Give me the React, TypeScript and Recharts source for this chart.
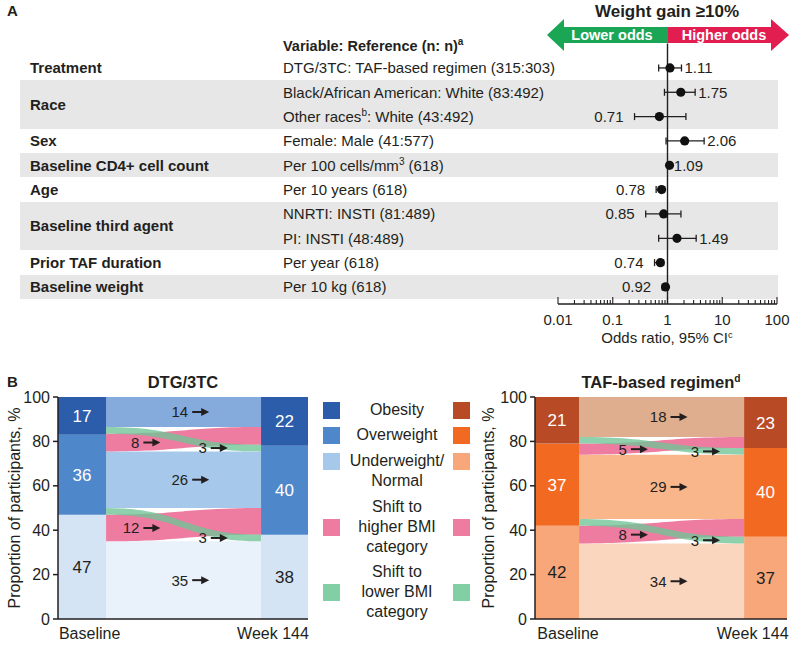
import React from 'react'
import {
  ScatterChart,
  Scatter,
  ErrorBar,
  ComposedChart,
  Area,
  XAxis,
  YAxis,
  ReferenceLine,
  ReferenceArea,
  ReferenceDot,
  Label,
} from 'recharts'

const FONT = '"Liberation Sans", Arial, Helvetica, sans-serif'
const INK = '#231f20'

// ---------- panel A: odds of weight gain >=10% ----------
const groupNames = [
  'Treatment',
  'Race',
  'Sex',
  'Baseline CD4+ cell count',
  'Age',
  'Baseline third agent',
  'Prior TAF duration',
  'Baseline weight',
]
const groupRows = [0, 1.5, 3, 4, 5, 6.5, 8, 9]
const references = [
  'DTG/3TC: TAF-based regimen (315:303)',
  'Black/African American: White (83:492)',
  'Other races^b: White (43:492)',
  'Female: Male (41:577)',
  'Per 100 cells/mm^3 (618)',
  'Per 10 years (618)',
  'NNRTI: INSTI (81:489)',
  'PI: INSTI (48:489)',
  'Per year (618)',
  'Per 10 kg (618)',
]
const oddsRatios = [1.11, 1.75, 0.71, 2.06, 1.09, 0.78, 0.85, 1.49, 0.74, 0.92]
const ciLower = [0.69, 0.88, 0.25, 0.94, 1.03, 0.62, 0.4, 0.69, 0.58, 0.8]
const ciUpper = [1.8, 3.2, 2.17, 4.67, 1.15, 0.88, 1.76, 3.34, 0.85, 1.03]
const labelOnLeft = [false, false, true, false, false, true, true, false, true, true]
const shadedGroups = [[1, 2], [4, 4], [6, 7], [9, 9]]
const oddsMajorTicks = [0.01, 0.1, 1, 10, 100]
const oddsMinorTicks = [0.01, 0.1, 1, 10].flatMap(d => [2, 3, 4, 5, 6, 7, 8, 9].map(m => d * m))

// ---------- panel B: BMI category shifts ----------
const visits = ['Baseline', 'Week 144']
const dtgBaseline = [47, 36, 17]
const dtgWeek144 = [38, 40, 22]
const dtgFlowValues = [35, 12, 3, 26, 8, 3, 14]
const dtgFlowKinds = ['stay0', 'up', 'down', 'stay1', 'up', 'down', 'stay2']
const dtgFlowFrom = [[0, 35], [35, 47], [47, 50], [50, 75.5], [75.5, 83.5], [83.5, 86.5], [86.5, 100]]
const dtgFlowTo = [[0, 35], [38, 50], [35, 38], [50, 75.5], [78.5, 86.5], [75.5, 78.5], [86.5, 100]]

const tafBaseline = [42, 37, 21]
const tafWeek144 = [37, 40, 23]
const tafFlowValues = [34, 8, 3, 29, 5, 3, 18]
const tafFlowKinds = ['stay0', 'up', 'down', 'stay1', 'up', 'down', 'stay2']
const tafFlowFrom = [[0, 34], [34, 42], [42, 45], [45, 74], [74, 79], [79, 82], [82, 100]]
const tafFlowTo = [[0, 34], [37, 45], [34, 37], [45, 74], [77, 82], [74, 77], [82, 100]]

const dtgBarColors = ['#d4e4f5', '#4f87cb', '#2b5dab']
const dtgFlowColors = ['#e9f1fa', '#a6c9eb', '#84abdc']
const tafBarColors = ['#f7a77a', '#f26a22', '#b84b26']
const tafFlowColors = ['#fbd6bf', '#f8b68a', '#deae8e']
const UP = '#ee7ca0'
const DOWN = '#6fc496'

// forest plot geometry
const A_TOP = 43.6
const A_AXIS = 304
const ROW_MIN = -1
const ROW_MAX = 9.7
const ROW_H = (A_AXIS - A_TOP) / (ROW_MAX - ROW_MIN)
const rowY = (r: number) => A_TOP + (r - ROW_MIN) * ROW_H

const svgSup = (s: string) =>
  s.split(/\^(\w)/).map((p, i) =>
    i % 2 === 1 ? (
      <tspan key={i} dy={-6} fontSize={10}>{p}</tspan>
    ) : (
      <tspan key={i} dy={i > 0 ? 6 : undefined}>{p}</tspan>
    )
  )

const htmlSup = (s: string) =>
  s.split(/\^(\w)/).map((p, i) =>
    i % 2 === 1 ? (
      <sup key={i} style={{ fontSize: '0.62em', lineHeight: 0, verticalAlign: '0.55em' }}>{p}</sup>
    ) : (
      <span key={i}>{p}</span>
    )
  )

const RowTick = (p: any) => {
  const v = p.payload.value
  const y = p.y
  const gi = groupRows.indexOf(v)
  return (
    <g>
      {v < 0 && (
        <text x={283} y={y} dy="0.35em" fontSize={14.5} fontWeight="bold" fill={INK}>
          {svgSup('Variable: Reference (n: n)^a')}
        </text>
      )}
      {gi >= 0 && (
        <text x={30} y={y} dy="0.35em" fontSize={15} fontWeight="bold" fill={INK}>
          {groupNames[gi]}
        </text>
      )}
      {Number.isInteger(v) && v >= 0 && (
        <text x={283} y={y} dy="0.35em" fontSize={15} fill={INK}>
          {svgSup(references[v])}
        </text>
      )}
    </g>
  )
}

const OddsTick = (p: any) => {
  const v = p.payload.value
  const major = oddsMajorTicks.includes(v)
  return (
    <g>
      <line x1={p.x} x2={p.x} y1={p.y} y2={p.y - (major ? 7 : 4)} stroke={INK} strokeWidth={1.1} />
      {major && (
        <text x={p.x} y={p.y + 16} dy="0.35em" textAnchor="middle" fontSize={15} fill={INK}>
          {v}
        </text>
      )}
    </g>
  )
}

const ForestPlot = () => {
  const points = oddsRatios.map((or, i) => ({ x: or, y: i, err: [or - ciLower[i], ciUpper[i] - or] }))
  const rightLabels = oddsRatios
    .map((or, i) => ({ x: ciUpper[i], y: i, text: or.toFixed(2), left: labelOnLeft[i] }))
    .filter(d => !d.left)
  const leftLabels = oddsRatios
    .map((or, i) => ({ x: ciLower[i], y: i, text: or.toFixed(2), left: labelOnLeft[i] }))
    .filter(d => d.left)
  const rowTicks = [-0.92, 0, 1, 1.5, 2, 3, 4, 5, 6, 6.5, 7, 8, 9]
  return (
    <ScatterChart width={793} height={350} margin={{ top: A_TOP, right: 16, bottom: 0, left: 498 }}>
      <XAxis
        type="number"
        dataKey="x"
        scale="log"
        domain={[0.01, 100]}
        allowDataOverflow
        ticks={[...oddsMajorTicks, ...oddsMinorTicks].sort((a, b) => a - b)}
        interval={0}
        tickSize={0}
        tickMargin={0}
        tickLine={false}
        height={46}
        axisLine={{ stroke: INK, strokeWidth: 1.3 }}
        tick={(p: any) => <OddsTick {...p} />}
      />
      <YAxis
        type="number"
        dataKey="y"
        domain={[ROW_MIN, ROW_MAX]}
        allowDataOverflow
        reversed
        ticks={rowTicks}
        interval={0}
        width={60}
        tickSize={0}
        tickMargin={0}
        tickLine={false}
        axisLine={false}
        tick={(p: any) => <RowTick {...p} />}
      />
      <ReferenceLine x={1} stroke={INK} strokeWidth={1.4} />
      <Scatter
        data={points}
        isAnimationActive={false}
        shape={(p: any) => <circle cx={p.cx} cy={p.cy} r={4.6} fill="#111" />}
      >
        <ErrorBar dataKey="err" direction="x" width={3.5} stroke={INK} strokeWidth={1.3} />
      </Scatter>
      <Scatter
        data={rightLabels}
        isAnimationActive={false}
        shape={(p: any) => (
          <text x={p.cx + 3} y={p.cy} dy="0.35em" fontSize={15} fill={INK}>
            {p.payload.text}
          </text>
        )}
      />
      <Scatter
        data={leftLabels}
        isAnimationActive={false}
        shape={(p: any) => (
          <text x={p.cx - 11} y={p.cy} dy="0.35em" textAnchor="end" fontSize={15} fill={INK}>
            {p.payload.text}
          </text>
        )}
      />
    </ScatterChart>
  )
}

const FlowLabel = ({ cx, cy, text }: any) => (
  <g>
    <text x={cx} y={cy} dy="0.36em" textAnchor="end" fontSize={15} fill={INK}>
      {text}
    </text>
    <line x1={cx + 4} x2={cx + 15} y1={cy} y2={cy} stroke={INK} strokeWidth={2} />
    <path d={`M${cx + 21},${cy} L${cx + 13},${cy - 4} L${cx + 13},${cy + 4} Z`} fill={INK} />
  </g>
)

type FlowProps = {
  baseline: number[]
  week144: number[]
  flowValues: number[]
  flowKinds: string[]
  flowFrom: number[][]
  flowTo: number[][]
  barColors: string[]
  flowColors: string[]
  width: number
  axisWidth: number
  rightMargin: number
  leftBar: number
  rightBar: number
  visitTicks: number[]
  upLabelX: number
  downLabelX: number
  yLabelOffset: number
}

const FlowChart = (f: FlowProps) => {
  const data = [0, 1].map(x => {
    const row: any = { x }
    f.flowValues.forEach((_, i) => {
      row['f' + i] = x === 0 ? f.flowFrom[i] : f.flowTo[i]
    })
    return row
  })
  const stackRanges = (vals: number[]) => {
    let acc = 0
    return vals.map(v => {
      const r = [acc, acc + v]
      acc += v
      return r
    })
  }
  const baseRanges = stackRanges(f.baseline)
  const weekRanges = stackRanges(f.week144)
  const colorOf = (k: string) =>
    k === 'up' ? UP : k === 'down' ? DOWN : f.flowColors[Number(k.slice(4))]
  const order = f.flowKinds.map((k, i) => i).sort((a, b) => {
    const w = (k: string) => (k === 'down' ? 2 : k === 'up' ? 1 : 0)
    return w(f.flowKinds[a]) - w(f.flowKinds[b])
  })
  const mid = (r: number[]) => (r[0] + r[1]) / 2
  return (
    <ComposedChart
      width={f.width}
      height={275}
      data={data}
      margin={{ top: 27, right: f.rightMargin, bottom: 0, left: 0 }}
    >
      <XAxis
        type="number"
        dataKey="x"
        domain={[-f.leftBar, 1 + f.rightBar]}
        allowDataOverflow
        ticks={f.visitTicks}
        interval={0}
        tickFormatter={(v: number) => (v < 0.5 ? visits[0] : visits[1])}
        tickSize={0}
        tickMargin={9}
        height={26}
        axisLine={{ stroke: INK, strokeWidth: 1.5 }}
        tick={{ fontSize: 16, fill: INK }}
      />
      <YAxis
        type="number"
        domain={[0, 100]}
        ticks={[0, 20, 40, 60, 80, 100]}
        interval={0}
        width={f.axisWidth}
        tickSize={5}
        tickMargin={3}
        axisLine={{ stroke: INK, strokeWidth: 1.5 }}
        tickLine={{ stroke: INK, strokeWidth: 1.5 }}
        tick={{ fontSize: 16, fill: INK }}
      >
        <Label
          value="Proportion of participants, %"
          angle={-90}
          position="insideLeft"
          offset={f.yLabelOffset}
          style={{ textAnchor: 'middle', fontSize: 16, fill: INK }}
        />
      </YAxis>
      {order.map(i => (
        <Area
          key={'f' + i}
          dataKey={'f' + i}
          type="bumpX"
          stroke="none"
          fill={colorOf(f.flowKinds[i])}
          fillOpacity={f.flowKinds[i] === 'down' ? 0.78 : 1}
          dot={false}
          activeDot={false}
          isAnimationActive={false}
        />
      ))}
      {baseRanges.map((r, i) => (
        <ReferenceArea
          key={'b' + i}
          x1={-f.leftBar}
          x2={0}
          y1={r[0]}
          y2={r[1]}
          fill={f.barColors[i]}
          fillOpacity={1}
          stroke="none"
          label={<Label value={f.baseline[i]} position="center" fontSize={17} fill={i === 0 ? INK : '#fff'} />}
        />
      ))}
      {weekRanges.map((r, i) => (
        <ReferenceArea
          key={'w' + i}
          x1={1}
          x2={1 + f.rightBar}
          y1={r[0]}
          y2={r[1]}
          fill={f.barColors[i]}
          fillOpacity={1}
          stroke="none"
          label={<Label value={f.week144[i]} position="center" fontSize={17} fill={i === 0 ? INK : '#fff'} />}
        />
      ))}
      {f.flowValues.map((v, i) => {
        const k = f.flowKinds[i]
        const x = k === 'up' ? f.upLabelX : k === 'down' ? f.downLabelX : 0.53
        const y = k === 'down' ? mid(f.flowTo[i]) : mid(f.flowFrom[i])
        return (
          <ReferenceDot
            key={'l' + i}
            x={x}
            y={y}
            r={0}
            shape={(p: any) => <FlowLabel cx={p.cx} cy={p.cy} text={v} />}
          />
        )
      })}
    </ComposedChart>
  )
}

const Txt = ({ x, y, size, bold, children, anchor = 'middle' }: any) => (
  <div
    style={{
      position: 'absolute',
      left: x,
      top: y - size / 2,
      fontSize: size,
      lineHeight: 1,
      fontWeight: bold ? 'bold' : 'normal',
      whiteSpace: 'nowrap',
      transform: anchor === 'middle' ? 'translateX(-50%)' : undefined,
    }}
  >
    {children}
  </div>
)

const legendEntries = [
  { lines: ['Obesity'], left: dtgBarColors[2], right: tafBarColors[2], y: 410, first: 0 },
  { lines: ['Overweight'], left: dtgBarColors[1], right: tafBarColors[1], y: 435, first: 0 },
  { lines: ['Underweight/', 'Normal'], left: dtgFlowColors[1], right: tafBarColors[0], y: 461, first: 0 },
  { lines: ['Shift to', 'higher BMI', 'category'], left: UP, right: UP, y: 527, first: -1 },
  { lines: ['Shift to', 'lower BMI', 'category'], left: '#82cea5', right: '#82cea5', y: 592, first: -1 },
]

export default function App() {
  return (
    <div
      style={{
        position: 'absolute',
        left: 0,
        top: 0,
        width: 793,
        height: 645,
        background: '#fff',
        fontFamily: FONT,
        color: INK,
        overflow: 'hidden',
      }}
    >
      {shadedGroups.map(([a, b], i) => (
        <div
          key={i}
          style={{
            position: 'absolute',
            left: 20,
            width: 758,
            top: rowY(a) - ROW_H / 2,
            height: rowY(b) - rowY(a) + ROW_H,
            background: '#e7e7e7',
          }}
        />
      ))}
      <div style={{ position: 'absolute', left: 0, top: 0 }}>
        <ForestPlot />
      </div>

      <Txt x={7} y={10} size={15} bold anchor="start">A</Txt>
      <Txt x={667} y={11} size={17} bold>Weight gain ≥10%</Txt>
      <svg width={793} height={60} style={{ position: 'absolute', left: 0, top: 0 }}>
        <polygon points="547,35 564,19 564,27 668,27 668,43 564,43 564,51" fill="#1ba656" />
        <polygon points="668,27 771,27 771,19 789,35 771,51 771,43 668,43" fill="#e21d4f" />
        <text x={612} y={35} dy="0.36em" textAnchor="middle" fill="#fff" fontWeight="bold" fontSize={14.5}>
          Lower odds
        </text>
        <text x={724} y={35} dy="0.36em" textAnchor="middle" fill="#fff" fontWeight="bold" fontSize={14.5}>
          Higher odds
        </text>
      </svg>
      <Txt x={667} y={337} size={15}>{htmlSup('Odds ratio, 95% CI^c')}</Txt>

      <Txt x={7} y={381} size={15} bold anchor="start">B</Txt>
      <Txt x={183} y={382} size={16.5} bold>DTG/3TC</Txt>
      <Txt x={661} y={382} size={16.5} bold>{htmlSup('TAF-based regimen^d')}</Txt>

      <div style={{ position: 'absolute', left: 0, top: 370 }}>
        <FlowChart
          baseline={dtgBaseline}
          week144={dtgWeek144}
          flowValues={dtgFlowValues}
          flowKinds={dtgFlowKinds}
          flowFrom={dtgFlowFrom}
          flowTo={dtgFlowTo}
          barColors={dtgBarColors}
          flowColors={dtgFlowColors}
          width={320}
          axisWidth={58}
          rightMargin={12}
          leftBar={0.31}
          rightBar={0.303}
          visitTicks={[-0.106, 1.077]}
          upLabelX={0.215}
          downLabelX={0.65}
          yLabelOffset={14}
        />
      </div>
      <div style={{ position: 'absolute', left: 470, top: 370 }}>
        <FlowChart
          baseline={tafBaseline}
          week144={tafWeek144}
          flowValues={tafFlowValues}
          flowKinds={tafFlowKinds}
          flowFrom={tafFlowFrom}
          flowTo={tafFlowTo}
          barColors={tafBarColors}
          flowColors={tafFlowColors}
          width={323}
          axisWidth={65}
          rightMargin={6}
          leftBar={0.267}
          rightBar={0.26}
          visitTicks={[-0.067, 1.052]}
          upLabelX={0.29}
          downLabelX={0.727}
          yLabelOffset={18}
        />
      </div>

      {legendEntries.map((e, i) => (
        <React.Fragment key={i}>
          <div
            style={{ position: 'absolute', left: 323, top: e.y - 8.5, width: 17, height: 17, background: e.left }}
          />
          <div
            style={{ position: 'absolute', left: 453, top: e.y - 8.5, width: 17, height: 17, background: e.right }}
          />
          {e.lines.map((l, j) => (
            <Txt key={j} x={397} y={e.y + (j + e.first) * 19.6} size={16}>
              {l}
            </Txt>
          ))}
        </React.Fragment>
      ))}
    </div>
  )
}
